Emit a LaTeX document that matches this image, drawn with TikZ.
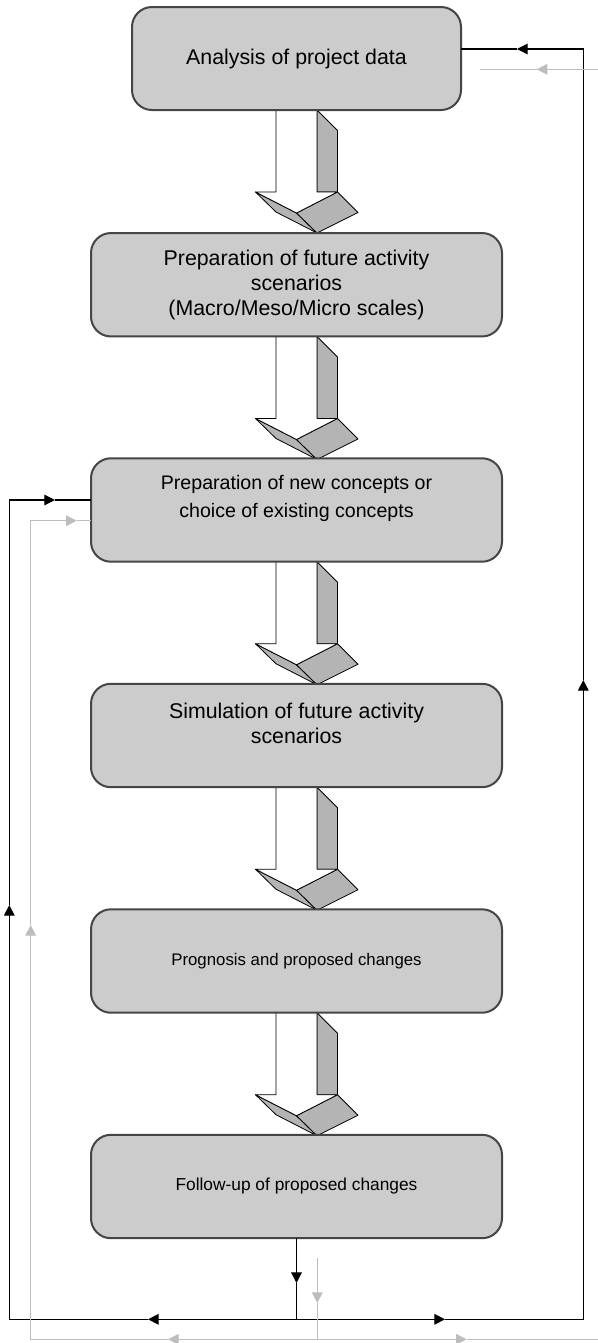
\documentclass[tikz,border=0pt]{standalone}
\usepackage{fontspec}
\setmainfont{Liberation Sans}
\usetikzlibrary{arrows.meta,backgrounds}
\definecolor{boxfill}{HTML}{CCCCCC}
\definecolor{boxline}{HTML}{454545}
\definecolor{facegray}{HTML}{B4B4B4}
\definecolor{linegray}{HTML}{BDBDBD}
\begin{document}
\begin{tikzpicture}[x=0.75pt,y=-0.75pt,
  box/.style={draw=boxline, fill=boxfill, line width=1.5pt, rounded corners=15pt,
    outer sep=0pt, inner sep=0pt, minimum width=308.25pt, minimum height=77.6pt,
    align=center, font=\fontsize{16}{18.75}\selectfont},
  txt/.style={align=center, font=\fontsize{16}{18.75}\selectfont, inner sep=0pt},
  blk/.style={draw=black, line width=0.8pt},
  gry/.style={draw=linegray, line width=0.8pt},
  tipb/.style={-{Triangle[length=8pt,width=8pt,fill=black]}},
  tipg/.style={-{Triangle[length=8pt,width=8pt,fill=linegray]}},
  face/.style={fill=facegray, draw=black, line width=0.6pt, line join=round},
  front/.style={fill=white, draw=black, line width=0.6pt, line join=round},
  fatarrow/.pic={
    \filldraw[face] (20.5,0) -- (41,20.5) -- (41,82) -- (20.5,82) -- cycle;
    \filldraw[face] (-41,82) -- (0,103) -- (20.5,123) -- (-20.5,102) -- cycle;
    \filldraw[face] (0,103) -- (41,82) -- (61.5,102.5) -- (20.5,123) -- cycle;
    \filldraw[front] (-20.5,0) -- (-20.5,82) -- (-41,82) -- (0,103) -- (41,82)
      -- (20.5,82) -- (20.5,0);
  }]
\useasboundingbox (0,0) rectangle (598,1343);

% process steps
\node[box, minimum width=246.75pt, minimum height=77.25pt] (b1) at (296.5,58.5) {Analysis of project data};
\node[box] (b2) at (296.5,284.75) {Preparation of future activity\\scenarios\\(Macro/Meso/Micro scales)};
\node[box] (b3) at (296.5,510) {};
\node[txt, font=\fontsize{14.7}{21}\selectfont] (t3) at ([yshift=9pt]b3.center) {Preparation of new concepts or\\choice of existing concepts};
\node[box] (b4) at (296.5,735.5) {};
\node[txt] (t4) at ([yshift=9.4pt]b4.center) {Simulation of future activity\\scenarios};
\node[box, font=\fontsize{12.6}{15}\selectfont] (b5) at (296.5,961) {Prognosis and proposed changes};
\node[box, font=\fontsize{13}{15}\selectfont] (b6) at (296.5,1186.5) {Follow-up of proposed changes};

% block arrows between the steps
\begin{scope}[on background layer]
  \pic at (b1.south) {fatarrow};
  \pic at (b2.south) {fatarrow};
  \pic at (b3.south) {fatarrow};
  \pic at (b4.south) {fatarrow};
  \pic at (b5.south) {fatarrow};
\end{scope}

% feedback loop (black)
\coordinate (kJ) at (296.5,1319.3);
\coordinate (kBL) at (9.3,1319.3);
\coordinate (kTL) at (9.3,500);
\coordinate (kBR) at (583.3,1319.3);
\coordinate (kTR) at (583.3,49);
\coordinate (aDown) at (296.5,1283);
\coordinate (aLeft) at (148,1319.3);
\coordinate (aUp) at (9.3,905);
\coordinate (aRight) at (55,500);
\coordinate (aRight2) at (445,1319.3);
\coordinate (aUp2) at (583.3,680);
\coordinate (aLeft2) at (517,49);

\draw[blk,tipb] (b6.south) -- (aDown);
\draw[blk] (aDown) -- (kJ);
\draw[blk,tipb] (kJ) -- (aLeft);
\draw[blk,tipb] (aLeft) -- (kBL) -- (aUp);
\draw[blk,tipb] (aUp) -- (kTL) -- (aRight);
\draw[blk] (aRight) -- (b3.west |- kTL);
\draw[blk,tipb] (kJ) -- (aRight2);
\draw[blk,tipb] (aRight2) -- (kBR) -- (aUp2);
\draw[blk,tipb] (aUp2) -- (kTR) -- (aLeft2);
\draw[blk] (aLeft2) -- (b1.east |- kTR);

% feedback loop (grey)
\coordinate (gS) at (317.3,1258.3);
\coordinate (gJ) at (317.3,1339.3);
\coordinate (gBL) at (30.7,1339.3);
\coordinate (gTL) at (30.7,520.7);
\coordinate (gBR) at (598,1339.3);
\coordinate (gR) at (598,69.3);
\coordinate (gE) at (480,69.3);
\coordinate (gDown) at (317.3,1303);
\coordinate (gLeft) at (168,1339.3);
\coordinate (gUp) at (30.7,925);
\coordinate (gRight) at (76.7,520.7);
\coordinate (gRight2) at (466.7,1339.3);
\coordinate (gLeft2) at (536.7,69.3);

\draw[gry,tipg] (gS) -- (gDown);
\draw[gry] (gDown) -- (gJ);
\draw[gry,tipg] (gJ) -- (gLeft);
\draw[gry,tipg] (gLeft) -- (gBL) -- (gUp);
\draw[gry,tipg] (gUp) -- (gTL) -- (gRight);
\draw[gry] (gRight) -- (b3.west |- gTL);
\draw[gry,tipg] (gJ) -- (gRight2);
\draw[gry] (gRight2) -- (gBR);
\draw[gry,tipg] (gR) -- (gLeft2);
\draw[gry] (gLeft2) -- (gE);
\end{tikzpicture}
\end{document}
